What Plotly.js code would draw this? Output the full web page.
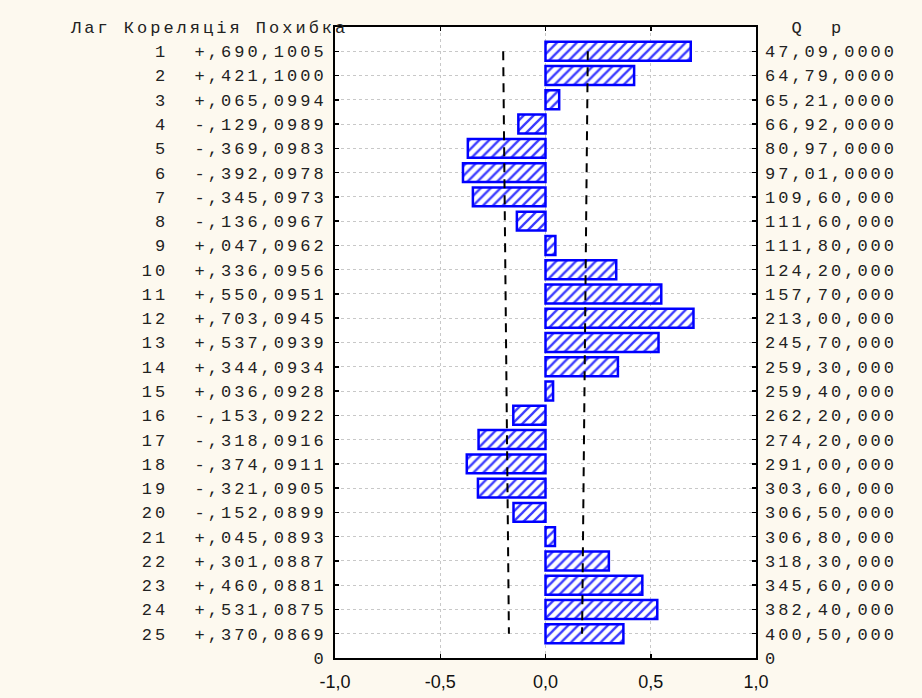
<!DOCTYPE html>
<html>
<head>
<meta charset="utf-8">
<script src="https://cdn.plot.ly/plotly-3.0.1.min.js"></script>
<style>
  html, body { margin: 0; padding: 0; background: #fdf9ef; }
  #chart { width: 922px; height: 698px; }
  /* wide, typewriter-like spacing for the monospaced table text */
  text[style*="Liberation Mono"] { letter-spacing: 3px; }
</style>
</head>
<body>
<div id="chart"></div>
<script>
// Autocorrelation function: lag, correlation, standard error, Box-Ljung Q and p
const lags = [1, 2, 3, 4, 5, 6, 7, 8, 9, 10, 11, 12, 13, 14, 15, 16, 17, 18, 19, 20, 21, 22, 23, 24, 25];
const corr = [0.690, 0.421, 0.065, -0.129, -0.369, -0.392, -0.345, -0.136, 0.047, 0.336,
              0.550, 0.703, 0.537, 0.344, 0.036, -0.153, -0.318, -0.374, -0.321, -0.152,
              0.045, 0.301, 0.460, 0.531, 0.370];
const stdErr = [0.1005, 0.1000, 0.0994, 0.0989, 0.0983, 0.0978, 0.0973, 0.0967, 0.0962, 0.0956,
                0.0951, 0.0945, 0.0939, 0.0934, 0.0928, 0.0922, 0.0916, 0.0911, 0.0905, 0.0899,
                0.0893, 0.0887, 0.0881, 0.0875, 0.0869];
const qLabels = ['47,09', '64,79', '65,21', '66,92', '80,97', '97,01', '109,6', '111,6', '111,8', '124,2',
                 '157,7', '213,0', '245,7', '259,3', '259,4', '262,2', '274,2', '291,0', '303,6', '306,5',
                 '306,8', '318,3', '345,6', '382,4', '400,5'];
const pLabels = [',0000', ',0000', ',0000', ',0000', ',0000', ',0000', '0,000', '0,000', '0,000', '0,000',
                 '0,000', '0,000', '0,000', '0,000', '0,000', '0,000', '0,000', '0,000', '0,000', '0,000',
                 '0,000', '0,000', '0,000', '0,000', '0,000'];
const xTickVals = [-1, -0.5, 0, 0.5, 1];
const xTickText = ['-1,0', '-0,5', '0,0', '0,5', '1,0'];
const headerLeft = 'Лаг Кореляція Похибка';
const headerRight = 'Q  p';

const NB = '\u00A0';
const fmtCorr = c => (c >= 0 ? '+' : '-') + ',' + String(Math.round(Math.abs(c) * 1000)).padStart(3, '0');
const fmtSE = s => ',' + String(Math.round(s * 10000)).padStart(4, '0');

const leftText = lags.map((l, i) => String(l) + NB.repeat(2) + fmtCorr(corr[i]) + fmtSE(stdErr[i]));
const rightText = lags.map((l, i) => qLabels[i] + pLabels[i]);

const bandLow = stdErr.map(s => -2 * s);
const bandHigh = stdErr.map(s => 2 * s);

const mono = { family: 'Liberation Mono, monospace', size: 17, color: '#222222' };
const bottomRow = lags.length + 1;

const traces = [
  {
    type: 'bar', orientation: 'h',
    x: corr, y: lags, width: 0.78,
    marker: {
      color: '#ffffff',
      line: { color: '#0000ff', width: 2.5 },
      pattern: { shape: '/', fgcolor: '#3a3aff', bgcolor: '#ffffff', size: 7, solidity: 0.33 }
    },
    hoverinfo: 'skip', showlegend: false
  },
  {
    type: 'scatter', mode: 'lines',
    x: bandLow, y: lags,
    line: { color: '#000000', width: 2, dash: '9px,7px' },
    hoverinfo: 'skip', showlegend: false
  },
  {
    type: 'scatter', mode: 'lines',
    x: bandHigh, y: lags, yaxis: 'y2',
    line: { color: '#000000', width: 2, dash: '9px,7px' },
    hoverinfo: 'skip', showlegend: false
  }
];

const layout = {
  width: 922, height: 698,
  margin: { l: 335, r: 166, t: 27, b: 40, pad: 0 },
  paper_bgcolor: '#fdf9ef',
  plot_bgcolor: '#ffffff',
  showlegend: false,
  xaxis: {
    range: [-1, 1],
    tickvals: xTickVals, ticktext: xTickText,
    ticks: 'inside', ticklen: 4, tickwidth: 1.5, tickcolor: '#000000',
    showline: true, linecolor: '#000000', linewidth: 2, mirror: 'ticks',
    showgrid: true, gridcolor: '#c8c8c8', gridwidth: 1, griddash: 'dot',
    zeroline: false,
    tickfont: { family: 'Liberation Sans, Arial, sans-serif', size: 18, color: '#111111' },
    ticklabelstandoff: 6
  },
  yaxis: {
    range: [bottomRow, 0],
    tickvals: lags.concat([bottomRow]),
    ticktext: leftText.concat(['0']),
    ticks: 'inside', ticklen: 4, tickwidth: 1.5, tickcolor: '#000000',
    showline: true, linecolor: '#000000', linewidth: 2, mirror: 'ticks',
    showgrid: true, gridcolor: '#c8c8c8', gridwidth: 1, griddash: 'dot',
    zeroline: false,
    tickfont: mono,
    ticklabelstandoff: 3
  },
  yaxis2: {
    overlaying: 'y', side: 'right',
    range: [bottomRow, 0],
    tickvals: [0].concat(lags, [bottomRow]),
    ticktext: [NB + NB + headerRight.replace(/ /g, NB)].concat(rightText, ['0']),
    ticks: '', showline: false, showgrid: false, zeroline: false,
    tickfont: mono,
    ticklabelstandoff: 8
  },
  annotations: [
    {
      xref: 'paper', yref: 'paper', x: -0.634, y: 1, xanchor: 'left', yanchor: 'middle',
      yshift: -1, showarrow: false, text: headerLeft, font: mono
    }
  ]
};

Plotly.newPlot('chart', traces, layout, { staticPlot: true, displayModeBar: false });
</script>
</body>
</html>
